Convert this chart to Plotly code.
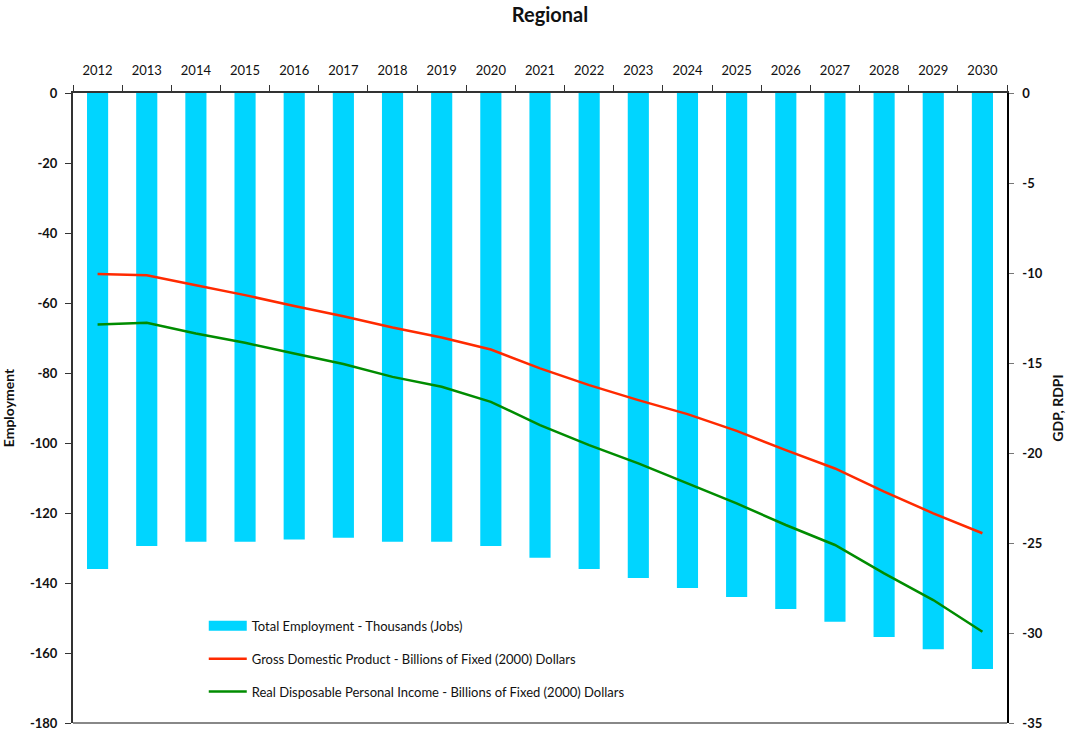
import plotly.graph_objects as go

# Forecast years shown along the top axis
years = [str(y) for y in range(2012, 2031)]

# Total employment change, thousands of jobs (left axis)
employment = [-136.0, -129.4, -128.2, -128.2, -127.6, -127.1, -128.2, -128.2, -129.4, -132.8,
              -136.0, -138.6, -141.4, -144.0, -147.4, -151.1, -155.4, -158.9, -164.6]

# Gross Domestic Product change, billions of fixed (2000) dollars (right axis)
gdp = [-10.05, -10.12, -10.68, -11.23, -11.83, -12.40, -13.03, -13.58, -14.25, -15.30,
       -16.23, -17.06, -17.84, -18.77, -19.84, -20.86, -22.15, -23.35, -24.46]

# Real Disposable Personal Income change, billions of fixed (2000) dollars (right axis)
rdpi = [-12.86, -12.77, -13.36, -13.88, -14.47, -15.06, -15.77, -16.32, -17.16, -18.45,
        -19.56, -20.58, -21.69, -22.80, -24.00, -25.11, -26.69, -28.17, -29.93]

# Axis tick values (labels use a plain hyphen for the minus sign)
emp_ticks = [0, -20, -40, -60, -80, -100, -120, -140, -160, -180]
gdp_ticks = [0, -5, -10, -15, -20, -25, -30, -35]

FONT = "Lato, 'Open Sans', sans-serif"
BAR_COLOR = "#00D5FF"
GDP_COLOR = "#FF2A00"
RDPI_COLOR = "#008C00"
TEXT = "#111111"

fig = go.Figure()

fig.add_trace(go.Bar(
    x=years, y=employment, name="Total Employment - Thousands (Jobs)",
    marker=dict(color=BAR_COLOR, line=dict(width=0)), width=0.43,
    yaxis="y", showlegend=False,
))
# Legend entry for the bars, drawn as a wide filled swatch
fig.add_trace(go.Scatter(
    x=[None], y=[None], name="Total Employment - Thousands (Jobs)",
    mode="lines", line=dict(color=BAR_COLOR, width=11),
    yaxis="y", legendgroup="emp",
))
fig.add_trace(go.Scatter(
    x=years, y=gdp, name="Gross Domestic Product - Billions of Fixed (2000) Dollars",
    mode="lines", line=dict(color=GDP_COLOR, width=2.5),
    yaxis="y2", legendgroup="gdp",
))
fig.add_trace(go.Scatter(
    x=years, y=rdpi, name="Real Disposable Personal Income - Billions of Fixed (2000) Dollars",
    mode="lines", line=dict(color=RDPI_COLOR, width=2.5),
    yaxis="y2", legendgroup="rdpi",
))

fig.update_layout(
    width=1066, height=732,
    margin=dict(l=73, r=59, t=93, b=9, autoexpand=False),
    paper_bgcolor="white", plot_bgcolor="white",
    font=dict(family=FONT, size=13, color=TEXT),
    title=dict(text="<b>Regional</b>", x=0.516, xref="container", xanchor="center",
               y=0.979, yref="container", yanchor="middle",
               font=dict(family=FONT, size=20, color=TEXT)),
    showlegend=True,
    legend=dict(x=0.14, y=0.178, xanchor="left", yanchor="top",
                bgcolor="rgba(0,0,0,0)", font=dict(family=FONT, size=13, color=TEXT),
                tracegroupgap=13, itemwidth=38, traceorder="grouped"),
    xaxis=dict(type="category", side="top", anchor="y",
               showline=True, linecolor="#333333", linewidth=2,
               ticks="outside", tickson="boundaries", ticklen=6, tickcolor="#333333",
               ticklabelstandoff=11, showgrid=False, zeroline=False,
               tickfont=dict(family=FONT, size=13, color=TEXT)),
    yaxis=dict(range=[-180, 0], tickmode="array", tickvals=emp_ticks,
               ticktext=[f"<b>{v}</b>" for v in emp_ticks],
               showline=True, linecolor="#333333", linewidth=2,
               ticks="outside", ticklen=6, tickcolor="#333333",
               ticklabelstandoff=5, showgrid=False, zeroline=False,
               tickfont=dict(family=FONT, size=13, color=TEXT),
               title=dict(text="<b>Employment</b>", standoff=14,
                          font=dict(family=FONT, size=14, color=TEXT))),
    yaxis2=dict(range=[-35, 0], tickmode="array", tickvals=gdp_ticks,
                ticktext=[f"<b>{v}</b>" for v in gdp_ticks],
                overlaying="y", side="right",
                showline=True, linecolor="#000000", linewidth=1.5,
                ticks="outside", ticklen=5, tickcolor="#777777",
                ticklabelstandoff=6, showgrid=False, zeroline=False,
                tickfont=dict(family=FONT, size=13, color=TEXT),
                title=dict(text="<b>GDP, RDPI</b>", standoff=12,
                           font=dict(family=FONT, size=14, color=TEXT))),
    shapes=[dict(type="line", xref="paper", yref="paper", x0=0, x1=1, y0=0, y1=0,
                 line=dict(color="#888888", width=2))],
)

fig.write_html("out.html")
